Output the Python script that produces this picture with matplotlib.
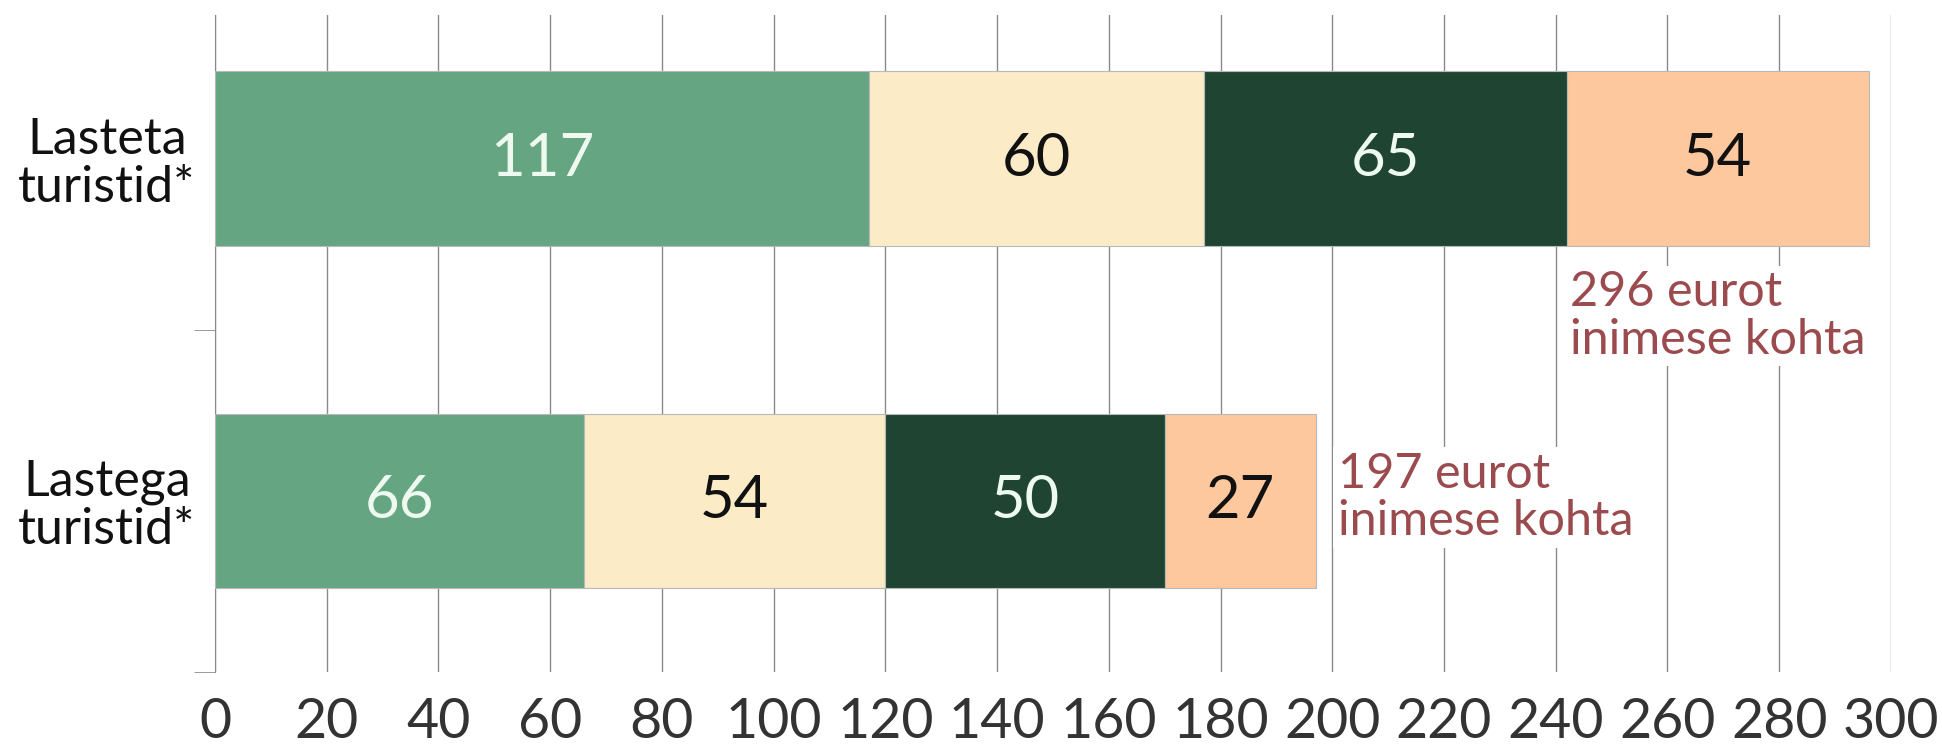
import numpy as np
import matplotlib.pyplot as plt

# Data
groups = ['Lasteta\nturistid*', 'Lastega\nturistid*']
lasteta = [117, 60, 65, 54]
lastega = [66, 54, 50, 27]
totals = [296, 197]
seg_colors = ['#65a582', '#fbebc6', '#1f4532', '#fdc89e']
txt_colors = ['#eefaf0', '#111111', '#eefaf0', '#111111']
note_color = '#9b4a4e'
ticks = np.arange(0, 301, 20)

plt.rcParams['font.family'] = ['Lato', 'DejaVu Sans']

fig = plt.figure(figsize=(19.42, 7.51), dpi=100)
ax = fig.add_axes([0.1107, 0.1052, 0.863, 0.875])

values = np.array([lasteta, lastega])
y = np.arange(len(groups))
left = np.zeros(len(groups))
for i in range(values.shape[1]):
    ax.barh(y, values[:, i], left=left, height=0.51, color=seg_colors[i],
            edgecolor='#b8b8b8', linewidth=0.8, zorder=3)
    for j in range(len(groups)):
        ax.text(left[j] + values[j, i] / 2, y[j], str(values[j, i]),
                ha='center', va='center', fontsize=43, color=txt_colors[i], zorder=4)
    left += values[:, i]

# totals
ax.text(totals[0] - 54 + 0.5, 0.46, f'{totals[0]} eurot\ninimese kohta', ha='left', va='center',
        fontsize=35, color=note_color, linespacing=1.1, zorder=4,
        bbox=dict(facecolor='white', edgecolor='none', pad=3))
ax.text(totals[1] + 4, 0.99, f'{totals[1]} eurot\ninimese kohta', ha='left', va='center',
        fontsize=35, color=note_color, linespacing=1.1, zorder=4,
        bbox=dict(facecolor='white', edgecolor='none', pad=3))

ax.set_xlim(0, 300)
ax.set_ylim(1.5, -0.42)
ax.set_xticks(ticks)
ax.set_xticklabels([str(t) for t in ticks], fontsize=40, color='#333333')
ax.grid(axis='x', color='#8a8a8a', linewidth=1.0, zorder=1)
ax.set_axisbelow(True)

ax.set_yticks(y)
ax.set_yticklabels(groups, fontsize=36, color='#111111')
for lab in ax.get_yticklabels():
    lab.set_multialignment('center')
    lab.set_linespacing(1.05)
ax.set_yticks([0.5, 1.5], minor=True)
ax.tick_params(axis='y', which='major', length=0, pad=14)
ax.tick_params(axis='y', which='minor', length=15, color='#8a8a8a')
ax.tick_params(axis='x', length=0, pad=18)

for s in ['top', 'right', 'bottom']:
    ax.spines[s].set_visible(False)
ax.spines['left'].set_color('#8a8a8a')

fig.savefig('out.png', dpi=100)
